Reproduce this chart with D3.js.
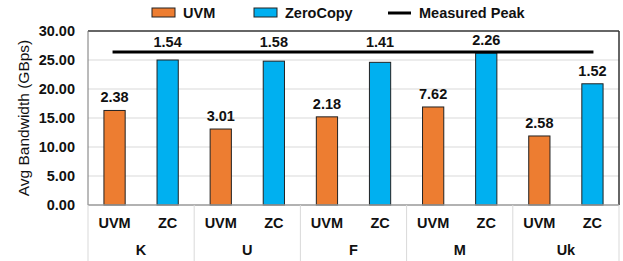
<!DOCTYPE html>
<html>
<head>
<meta charset="utf-8">
<script src="https://cdn.jsdelivr.net/npm/d3@7"></script>
<style>
  body { margin: 0; background: #fff; }
  text { font-family: "Liberation Sans", Arial, sans-serif; font-weight: bold; fill: #111; }
</style>
</head>
<body>
<div id="chart"></div>
<script>
"use strict";

// data
var groups = ["K", "U", "F", "M", "Uk"];
var series = ["UVM", "ZC"];
var uvmValues = [16.3, 13.1, 15.2, 16.9, 11.9];
var zcValues = [25.0, 24.8, 24.6, 26.2, 20.9];
var uvmLabels = ["2.38", "3.01", "2.18", "7.62", "2.58"];
var zcLabels = ["1.54", "1.58", "1.41", "2.26", "1.52"];
var peak = 26.4;
var yTicks = [0, 5, 10, 15, 20, 25, 30];

var colors = { UVM: "#ED7D31", ZC: "#00B0F0" };

var width = 623, height = 261;
var margin = { top: 31, right: 4, bottom: 56, left: 88 };

var svg = d3.select("#chart").append("svg")
  .attr("width", width)
  .attr("height", height);

var x0 = d3.scaleBand()
  .domain(groups)
  .range([margin.left, width - margin.right]);

var x1 = d3.scaleBand()
  .domain(series)
  .range([0, x0.bandwidth()])
  .paddingInner(0.6)
  .paddingOuter(0.3);

var y = d3.scaleLinear()
  .domain([0, 30])
  .range([height - margin.bottom, margin.top]);

function barCenter(g, s) {
  return x0(g) + x1(s) + x1.bandwidth() / 2;
}

// gridlines
svg.append("g")
  .selectAll("line")
  .data(yTicks.slice(1, -1))
  .enter().append("line")
  .attr("x1", margin.left)
  .attr("x2", width - margin.right)
  .attr("y1", function(d) { return y(d); })
  .attr("y2", function(d) { return y(d); })
  .style("stroke", "#d9d9d9")
  .style("stroke-width", 1);

// y tick labels
svg.append("g")
  .selectAll("text")
  .data(yTicks)
  .enter().append("text")
  .attr("x", margin.left - 13)
  .attr("y", function(d) { return y(d); })
  .attr("dy", "0.36em")
  .style("text-anchor", "end")
  .style("font-size", "14.5px")
  .text(function(d) { return d3.format(".2f")(d); });

// y axis title
svg.append("text")
  .attr("transform", "translate(29," + y(15) + ") rotate(-90)")
  .style("text-anchor", "middle")
  .style("font-weight", "normal")
  .style("font-size", "15.5px")
  .text("Avg Bandwidth (GBps)");

// rows for bars
var rows = [];
groups.forEach(function(g, i) {
  rows.push({ group: g, s: "UVM", v: uvmValues[i], label: uvmLabels[i] });
  rows.push({ group: g, s: "ZC", v: zcValues[i], label: zcLabels[i] });
});

svg.append("g")
  .selectAll("rect")
  .data(rows)
  .enter().append("rect")
  .attr("x", function(d) { return x0(d.group) + x1(d.s); })
  .attr("y", function(d) { return y(d.v); })
  .attr("width", x1.bandwidth())
  .attr("height", function(d) { return y(0) - y(d.v); })
  .style("fill", function(d) { return colors[d.s]; })
  .style("stroke", "#222")
  .style("stroke-width", 1);

// value labels, pushed above the peak line when they would cross it
svg.append("g")
  .selectAll("text")
  .data(rows)
  .enter().append("text")
  .attr("x", function(d) { return barCenter(d.group, d.s); })
  .attr("y", function(d) {
    var t = y(d.v) - 8;
    if (t > y(peak) - 5 && t < y(peak) + 14) t = y(peak) - 5;
    return t;
  })
  .style("text-anchor", "middle")
  .style("font-size", "14.5px")
  .text(function(d) { return d.label; });

// frame
svg.append("line")
  .attr("x1", margin.left).attr("x2", width - margin.right)
  .attr("y1", margin.top).attr("y2", margin.top)
  .style("stroke", "#333").style("stroke-width", 1.5);
svg.append("line")
  .attr("x1", width - margin.right).attr("x2", width - margin.right)
  .attr("y1", margin.top).attr("y2", y(0))
  .style("stroke", "#333").style("stroke-width", 1.5);
svg.append("line")
  .attr("x1", margin.left).attr("x2", margin.left)
  .attr("y1", margin.top).attr("y2", y(0))
  .style("stroke", "#777").style("stroke-width", 1);
svg.append("line")
  .attr("x1", margin.left).attr("x2", width - margin.right)
  .attr("y1", y(0)).attr("y2", y(0))
  .style("stroke", "#999").style("stroke-width", 1.5);

// peak line
svg.append("line")
  .attr("x1", barCenter(groups[0], "UVM") - 2)
  .attr("x2", barCenter(groups[groups.length - 1], "ZC") + 1)
  .attr("y1", y(peak)).attr("y2", y(peak))
  .style("stroke", "#000").style("stroke-width", 3);

// x axis: group separators
var seps = groups.map(function(g) { return x0(g); }).concat([width - margin.right]);
svg.append("g")
  .selectAll("line")
  .data(seps)
  .enter().append("line")
  .attr("x1", function(d) { return d; })
  .attr("x2", function(d) { return d; })
  .attr("y1", y(0))
  .attr("y2", height)
  .style("stroke", "#d9d9d9")
  .style("stroke-width", 1);

svg.append("g")
  .selectAll("text")
  .data(rows)
  .enter().append("text")
  .attr("x", function(d) { return barCenter(d.group, d.s); })
  .attr("y", y(0) + 23)
  .style("text-anchor", "middle")
  .style("font-size", "14.5px")
  .text(function(d) { return d.s; });

svg.append("g")
  .selectAll("text")
  .data(groups)
  .enter().append("text")
  .attr("x", function(d) { return x0(d) + x0.bandwidth() / 2; })
  .attr("y", y(0) + 50)
  .style("text-anchor", "middle")
  .style("font-size", "14.5px")
  .text(function(d) { return d; });

// legend
var legendItems = [
  { name: "UVM", type: "rect", color: colors.UVM, x: 152 },
  { name: "ZeroCopy", type: "rect", color: colors.ZC, x: 254 },
  { name: "Measured Peak", type: "line", color: "#000", x: 388 }
];
var legend = svg.append("g");
legendItems.forEach(function(it) {
  var g = legend.append("g").attr("transform", "translate(" + it.x + ",13)");
  if (it.type == "rect") {
    g.append("rect")
      .attr("x", 0).attr("y", -5)
      .attr("width", 23).attr("height", 9)
      .style("fill", it.color)
      .style("stroke", "#222")
      .style("stroke-width", 1);
  } else {
    g.append("line")
      .attr("x1", 0).attr("x2", 23)
      .attr("y1", 0).attr("y2", 0)
      .style("stroke", it.color)
      .style("stroke-width", 3);
  }
  g.append("text")
    .attr("x", 31)
    .attr("y", 0)
    .attr("dy", "0.36em")
    .style("font-size", "14.5px")
    .text(it.name);
});
</script>
</body>
</html>
